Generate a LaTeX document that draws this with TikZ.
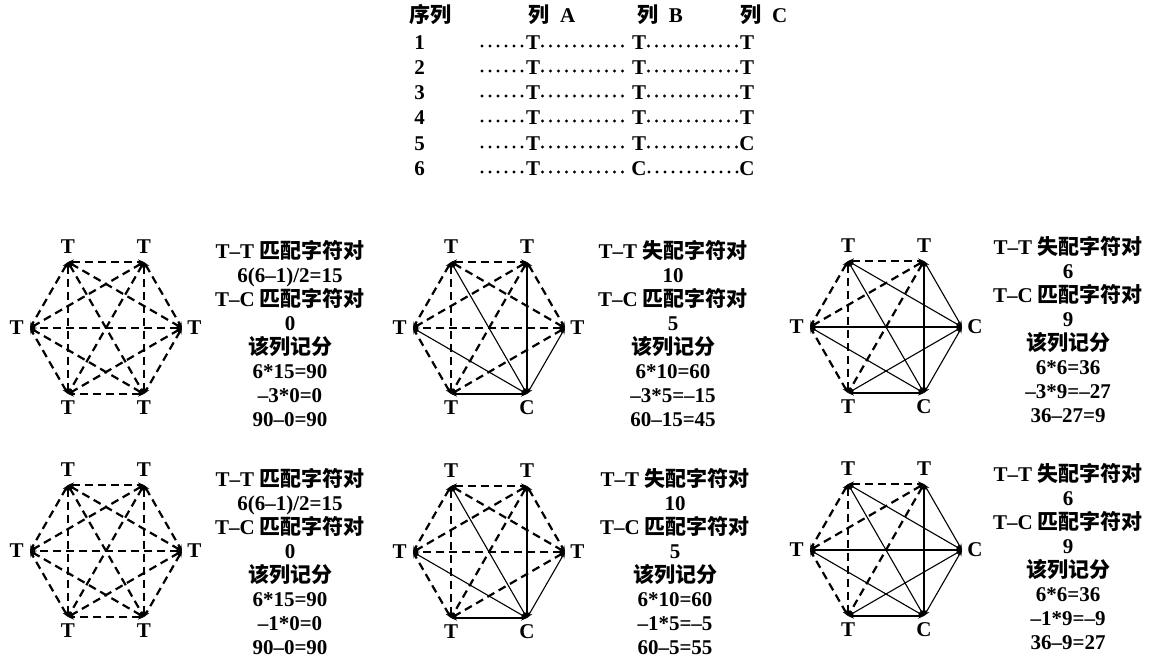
\documentclass[tikz,border=0pt]{standalone}
\usepackage{fontspec}
\setmainfont{Liberation Serif}
\newfontfamily\cjk{Noto Sans CJK SC}
\usetikzlibrary{arrows.meta,positioning}
\newcommand{\zh}[1]{{\cjk #1}}
\tikzset{
    every node/.style={font=\fontsize{10.5}{12}\selectfont\bfseries, inner sep=1pt},
    leader/.style={
        line width=1.6pt,line cap=round,dash pattern=on 0pt off 4pt,
        transform canvas={yshift=-1.5pt}
    },
    ttpair/.style={<->,dashed,dash pattern=on 4pt off 2.5pt,line width=1.1pt},
    tcpair/.style={<->,line width=.55pt},
    vlabel/.style={inner sep=1pt},
    score/.style={align=center}
}
% the six corners, their letters and all 15 pairs
\newcommand{\hexgraph}[6]{%
    \coordinate (#1-1) at ([shift={(-38,-66)}]#2);
    \coordinate (#1-2) at ([shift={(38,-66)}]#2);
    \coordinate (#1-3) at ([shift={(76,0)}]#2);
    \coordinate (#1-4) at ([shift={(38,66)}]#2);
    \coordinate (#1-5) at ([shift={(-38,66)}]#2);
    \coordinate (#1-6) at ([shift={(-76,0)}]#2);
    \node[vlabel,above=3pt of #1-1] (#1-1l) {T};
    \node[vlabel,above=3pt of #1-2] (#1-2l) {T};
    \node[vlabel,right=1.5pt of #1-3] (#1-3l) {#3};
    \node[vlabel,below=2pt of #1-4] (#1-4l) {#4};
    \node[vlabel,below=2pt of #1-5] (#1-5l) {T};
    \node[vlabel,left=2pt of #1-6] (#1-6l) {T};
    \foreach \i/\j in #5 {\draw[ttpair] (#1-\i) -- (#1-\j);}
    \foreach \i/\j in #6 {\draw[tcpair] (#1-\i) -- (#1-\j);}
}
\newcommand{\allpairs}{1/2,1/3,1/4,1/5,1/6,2/3,2/4,2/5,2/6,3/4,3/5,3/6,4/5,4/6,5/6}
\newcommand{\tpairsA}{1/2,1/3,1/5,1/6,2/3,2/5,2/6,3/5,3/6,5/6}
\newcommand{\cpairsA}{1/4,2/4,3/4,4/5,4/6}
\newcommand{\tpairsB}{1/2,1/5,1/6,2/5,2/6,5/6}
\newcommand{\cpairsB}{1/3,1/4,2/3,2/4,3/4,3/5,3/6,4/5,4/6}

\begin{document}
\begin{tikzpicture}[x=0.5pt,y=-0.5pt,>={Stealth[length=3pt,width=2.6pt]}]
\useasboundingbox (0,0) rectangle (1155,669);

% alignment table
\node (hd) at (430,15) {\zh{序列}};
\node (hda) at (552,15) {\zh{列}\ \ A};
\node (hdb) at (660,15) {\zh{列}\ \ B};
\node (hdc) at (764,15) {\zh{列}\ \ C};
\foreach \n/\y/\la/\lb/\lc in {1/43/T/T/T,2/68/T/T/T,3/93/T/T/T,4/118/T/T/T,5/144/T/T/C,6/169/T/C/C}{
    \node[anchor=west] (r\n) at (412,\y) {\n};
    \coordinate (s\n) at (482,\y);
    \node (a\n) at (533,\y) {\la};
    \node (b\n) at (639,\y) {\lb};
    \node (c\n) at (747,\y) {\lc};
    \draw[leader] (s\n) -- (a\n.west) (a\n.east) -- (b\n.west) (b\n.east) -- (c\n.west);
}

% column graphs, penalty -3
\coordinate (g1) at (106,328);
\coordinate (g2) at (489,328);
\coordinate (g3) at (886,327);
\hexgraph{h1}{g1}{T}{T}{\allpairs}{}
\hexgraph{h2}{g2}{T}{C}{\tpairsA}{\cpairsA}
\hexgraph{h3}{g3}{C}{C}{\tpairsB}{\cpairsB}
\node[score] (sc1) at (290,334) {T--T \zh{匹配字符对}\\6(6--1)/2=15\\T--C \zh{匹配字符对}\\0\\\zh{该列记分}\\6*15=90\\--3*0=0\\90--0=90};
\node[score] (sc2) at (673,334) {T--T \zh{失配字符对}\\10\\T--C \zh{匹配字符对}\\5\\\zh{该列记分}\\6*10=60\\--3*5=--15\\60--15=45};
\node[score] (sc3) at (1068,330) {T--T \zh{失配字符对}\\6\\T--C \zh{匹配字符对}\\9\\\zh{该列记分}\\6*6=36\\--3*9=--27\\36--27=9};

% column graphs, penalty -1
\coordinate (g4) at (106,551);
\coordinate (g5) at (489,552);
\coordinate (g6) at (886,550);
\hexgraph{h4}{g4}{T}{T}{\allpairs}{}
\hexgraph{h5}{g5}{T}{C}{\tpairsA}{\cpairsA}
\hexgraph{h6}{g6}{C}{C}{\tpairsB}{\cpairsB}
\node[score] (sc4) at (290,562) {T--T \zh{匹配字符对}\\6(6--1)/2=15\\T--C \zh{匹配字符对}\\0\\\zh{该列记分}\\6*15=90\\--1*0=0\\90--0=90};
\node[score] (sc5) at (675,562) {T--T \zh{失配字符对}\\10\\T--C \zh{匹配字符对}\\5\\\zh{该列记分}\\6*10=60\\--1*5=--5\\60--5=55};
\node[score] (sc6) at (1068,557) {T--T \zh{失配字符对}\\6\\T--C \zh{匹配字符对}\\9\\\zh{该列记分}\\6*6=36\\--1*9=--9\\36--9=27};
\end{tikzpicture}
\end{document}
